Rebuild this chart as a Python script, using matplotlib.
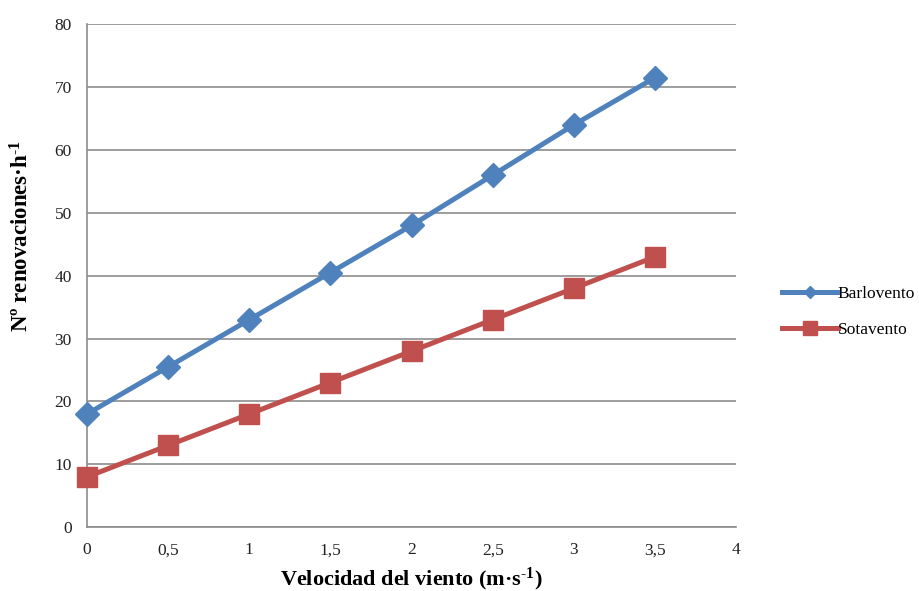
import numpy as np
import matplotlib.pyplot as plt
from matplotlib.lines import Line2D

plt.rcParams['font.family'] = ['Liberation Serif', 'DejaVu Serif']
plt.rcParams['mathtext.fontset'] = 'custom'
plt.rcParams['mathtext.rm'] = 'Liberation Serif'
plt.rcParams['mathtext.bf'] = 'Liberation Serif:bold'
plt.rcParams['mathtext.default'] = 'regular'

# velocidad del viento (m/s) y renovaciones por hora
velocidad = [0, 0.5, 1, 1.5, 2, 2.5, 3, 3.5]
barlovento = [18, 25.5, 33, 40.5, 48, 56, 64, 71.5]
sotavento = [8, 13, 18, 23, 28, 33, 38, 43]
xticks = [0, 0.5, 1, 1.5, 2, 2.5, 3, 3.5, 4]
yticks = [0, 10, 20, 30, 40, 50, 60, 70, 80]

azul = '#4F81BD'
rojo = '#C0504D'

fig = plt.figure(figsize=(9.19, 5.91), dpi=100)
ax = fig.add_axes([0.0947, 0.108, 0.7063, 0.851])

ax.plot(velocidad, barlovento, color=azul, lw=3.6, marker='D', ms=12,
        mec=azul, mfc=azul, zorder=3, clip_on=False)
ax.plot(velocidad, sotavento, color=rojo, lw=3.6, marker='s', ms=14,
        mec=rojo, mfc=rojo, zorder=3, clip_on=False)

ax.set_xlim(0, 4)
ax.set_ylim(0, 80)
ax.set_xticks(xticks)
ax.set_xticklabels([str(t).replace('.', ',') if t % 1 else str(int(t)) for t in xticks])
ax.set_yticks(yticks)
ax.tick_params(axis='both', length=0, labelsize=12.5, colors='#222222')
ax.tick_params(axis='x', pad=11)
ax.tick_params(axis='y', pad=11)

ax.yaxis.grid(True, color='#8c8c8c', lw=1.2)
ax.set_axisbelow(True)
for s in ['top', 'right']:
    ax.spines[s].set_visible(False)
for s in ['left', 'bottom']:
    ax.spines[s].set_color('#8c8c8c')
    ax.spines[s].set_linewidth(1.2)

ax.set_xlabel(r'Velocidad del viento (m·s$^{\text{-}1}$)', fontsize=16, fontweight='bold', labelpad=5)
ax.set_ylabel(r'Nº renovaciones·h$^{\text{-}1}$', fontsize=16.5, fontweight='bold')
ax.yaxis.set_label_coords(-0.083, 0.578)

handles = [Line2D([], [], color=azul, lw=3.6, marker='D', ms=6, mec=azul),
           Line2D([], [], color=rojo, lw=3.6, marker='s', ms=10, mec=rojo)]
fig.legend(handles, ['Barlovento', 'Sotavento'], loc='center left',
           bbox_to_anchor=(0.851, 0.472), frameon=False, fontsize=12.5,
           handlelength=3.2, handletextpad=0.0, labelspacing=1.1,
           borderpad=0, borderaxespad=0)

fig.savefig('out.png', dpi=100)
